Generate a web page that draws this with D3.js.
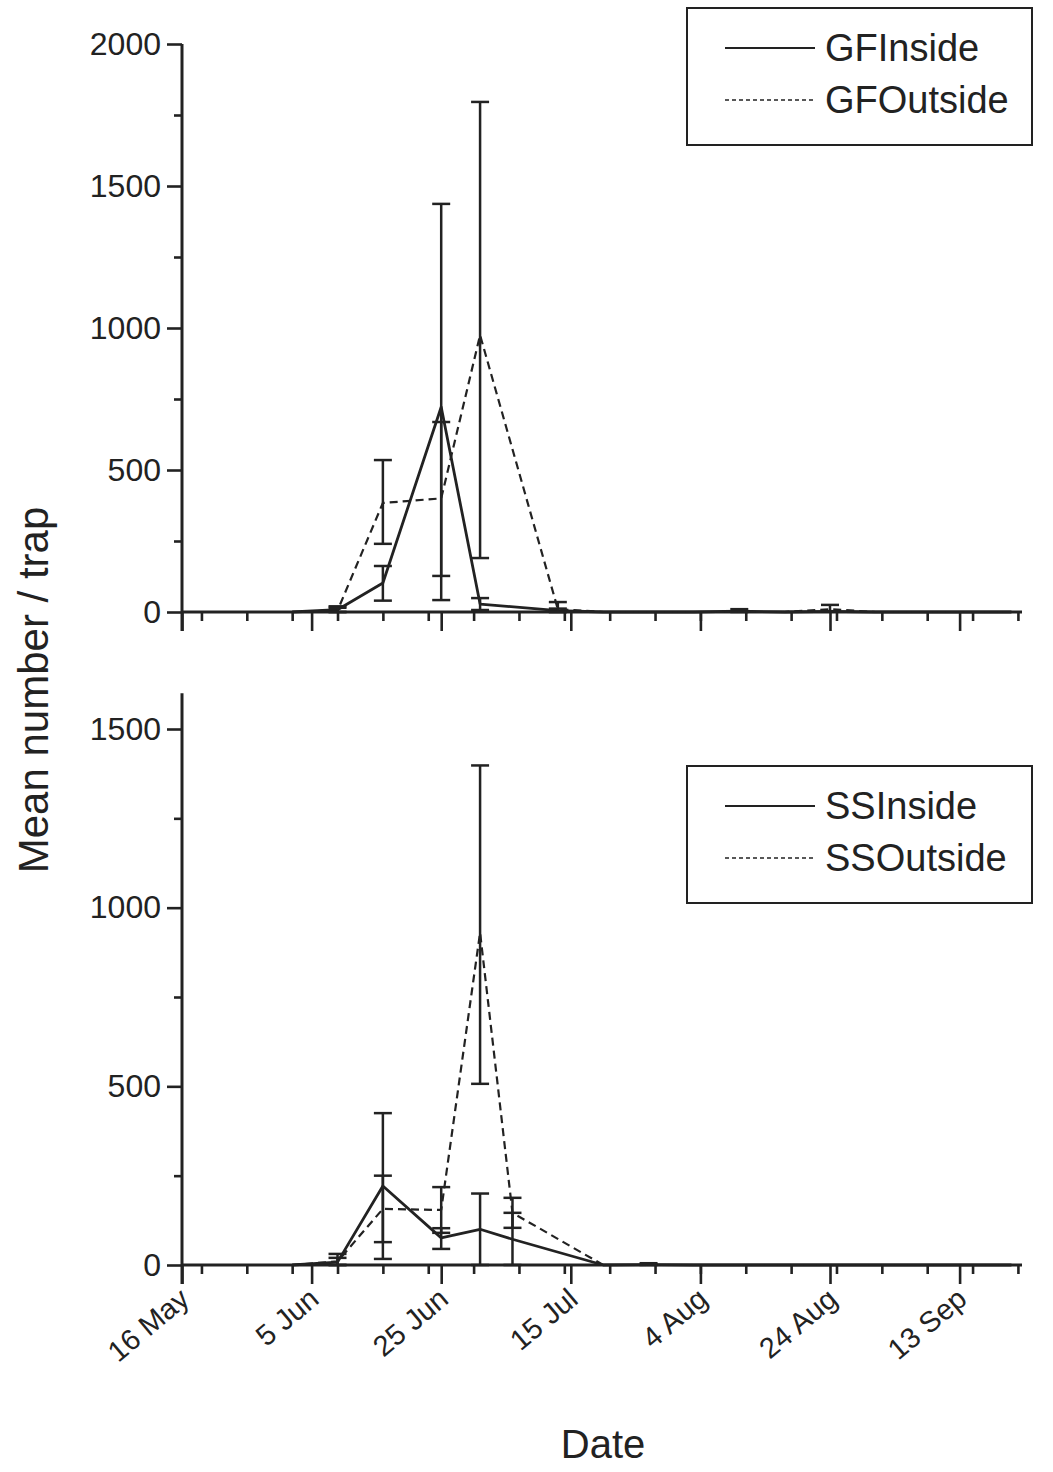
<!DOCTYPE html>
<html><head><meta charset="utf-8">
<script src="https://cdn.jsdelivr.net/npm/d3@7"></script>
<style>body{margin:0;background:#fff}</style>
</head><body>
<script>
// ---------- data ----------
const YEAR = 2002;
const majorTickDates  = ["05-16","06-05","06-25","07-15","08-04","08-24","09-13"];
const majorTickLabels = ["16 May","5 Jun","25 Jun","15 Jul","4 Aug","24 Aug","13 Sep"];

const gfDates = ["06-02","06-09","06-16","06-25","07-01","07-13","07-20","07-27","08-03","08-10","08-17","08-24","08-31","09-07","09-14","09-21"];
const gfInsideMean  = [0, 8, 102, 722, 28, 5, 0, 0, 0, 3, 0, 2, 0, 0, 0, 0];
const gfInsideLow   = [null, 0, 40, 42, 7, 0, null, null, null, 0, null, null, null, null, null, null];
const gfInsideHigh  = [null, 20, 162, 1437, 49, 12, null, null, null, 10, null, null, null, null, null, null];
const gfOutsideMean = [0, 5, 384, 400, 975, 10, 0, 0, 0, 0, 0, 10, 0, 0, 0, 0];
const gfOutsideLow  = [null, 0, 240, 127, 190, 0, null, null, null, null, null, 3, null, null, null, null];
const gfOutsideHigh = [null, 15, 535, 669, 1796, 35, null, null, null, null, null, 25, null, null, null, null];

const ssDates = ["06-02","06-09","06-16","06-25","07-01","07-06","07-20","07-27","08-03","08-10","08-17","08-24","08-31","09-07","09-14","09-21"];
const ssInsideMean  = [0, 8, 221, 76, 100, 72, 0, 1, 0, 0, 0, 0, 0, 0, 0, 0];
const ssInsideLow   = [null, 0, 17, 45, 0, 0, null, 0, null, null, null, null, null, null, null, null];
const ssInsideHigh  = [null, 20, 425, 103, 200, 146, null, 5, null, null, null, null, null, null, null, null];
const ssOutsideMean = [0, 10, 157, 154, 930, 146, 0, 0, 0, 0, 0, 0, 0, 0, 0, 0];
const ssOutsideLow  = [null, 0, 64, 90, 507, 104, null, null, null, null, null, null, null, null, null, null];
const ssOutsideHigh = [null, 31, 250, 218, 1398, 188, null, null, null, null, null, null, null, null, null, null];

const topYTicks = [0, 500, 1000, 1500, 2000];
const topYMinor = [250, 750, 1250, 1750];
const botYTicks = [0, 500, 1000, 1500];
const botYMinor = [250, 750, 1250];

// ---------- setup ----------
const W = 1053, H = 1472;
const FONT = "'Liberation Sans', Arial, Helvetica, sans-serif";
const d = s => new Date(Date.UTC(YEAR, +s.slice(0,2)-1, +s.slice(3,5)));
const svg = d3.select("body").append("svg").attr("width", W).attr("height", H)
  .style("font-family", FONT);

const x = d3.scaleUtc().domain([d("05-16"), d("09-22")]).range([182, 182 + 129*6.48]);
const weekly = d3.utcSunday.range(d("05-17"), d("09-23"));

function panel(cfg) {
  const y = d3.scaleLinear().domain([0, cfg.ymax]).range([cfg.y0, cfg.y0 - cfg.ymax*cfg.ppu]);
  const g = svg.append("g");
  const ax1 = g.append("g").attr("transform", `translate(0,${cfg.y0})`)
    .call(d3.axisBottom(x).tickValues(weekly).tickSize(9).tickSizeOuter(0).tickFormat(""));
  const ax2 = g.append("g").attr("transform", `translate(0,${cfg.y0})`)
    .call(d3.axisBottom(x).tickValues(majorTickDates.map(d)).tickSize(19).tickSizeOuter(0).tickFormat(""));
  [ax1, ax2].forEach(a => { a.select(".domain").remove(); a.selectAll("line").attr("stroke","#222").attr("stroke-width",2.6); });
  const ay1 = g.append("g").attr("transform", `translate(182,0)`)
    .call(d3.axisLeft(y).tickValues(cfg.yMinor).tickSize(8).tickSizeOuter(0).tickFormat(""));
  const ay2 = g.append("g").attr("transform", `translate(182,0)`)
    .call(d3.axisLeft(y).tickValues(cfg.yTicks).tickSize(15).tickSizeOuter(0).tickPadding(6).tickFormat(d3.format("d")));
  [ay1, ay2].forEach(a => { a.select(".domain").remove(); a.selectAll("line").attr("stroke","#222").attr("stroke-width",2.6); });
  ay2.selectAll("text").attr("font-size", 32).attr("font-family", FONT).attr("fill", "#222");
  g.append("line").attr("x1", 182).attr("x2", 1022).attr("y1", cfg.y0).attr("y2", cfg.y0)
    .attr("stroke", "#222").attr("stroke-width", 3.2);
  g.append("line").attr("x1", 182).attr("x2", 182).attr("y1", cfg.y0 + 19).attr("y2", y(cfg.ymax))
    .attr("stroke", "#222").attr("stroke-width", 3);

  cfg.series.forEach(s => {
    const pts = cfg.dates.map((t, i) => ({t: d(t), m: s.mean[i], lo: s.low[i], hi: s.high[i]}));
    const line = d3.line().x(p => x(p.t)).y(p => y(p.m));
    g.append("path").datum(pts).attr("d", line).attr("fill", "none")
      .attr("stroke", "#222").attr("stroke-width", s.dash ? 2.2 : 2.8)
      .attr("stroke-dasharray", s.dash ? "8,5" : null).attr("stroke-linejoin", "round");
    const eb = pts.filter(p => p.hi != null);
    const gg = g.append("g").attr("stroke", "#222").attr("stroke-width", 2.5);
    gg.selectAll(".v").data(eb).join("line")
      .attr("x1", p => x(p.t)).attr("x2", p => x(p.t)).attr("y1", p => y(p.lo)).attr("y2", p => y(p.hi));
    gg.selectAll(".c1").data(eb).join("line")
      .attr("x1", p => x(p.t)-9).attr("x2", p => x(p.t)+9).attr("y1", p => y(p.hi)).attr("y2", p => y(p.hi));
    gg.selectAll(".c2").data(eb).join("line")
      .attr("x1", p => x(p.t)-9).attr("x2", p => x(p.t)+9).attr("y1", p => y(p.lo)).attr("y2", p => y(p.lo));
  });

  const L = cfg.legend;
  g.append("rect").attr("x", 687).attr("y", L.y).attr("width", 345).attr("height", 137)
    .attr("fill", "#fff").attr("stroke", "#222").attr("stroke-width", 2);
  cfg.series.forEach((s, i) => {
    const ly = L.y + 40 + i*52;
    g.append("line").attr("x1", 725).attr("x2", 815).attr("y1", ly).attr("y2", ly)
      .attr("stroke", "#222").attr("stroke-width", s.dash ? 1.6 : 2.2)
      .attr("stroke-dasharray", s.dash ? "4,3" : null);
    g.append("text").attr("x", 825).attr("y", ly + 13).attr("font-size", 38)
      .attr("fill", "#222").text(s.name);
  });
  return y;
}

panel({
  y0: 612, ymax: 2000, ppu: 568/2000, yTicks: topYTicks, yMinor: topYMinor,
  dates: gfDates, legend: {y: 8},
  series: [
    {name: "GFInside", mean: gfInsideMean, low: gfInsideLow, high: gfInsideHigh, dash: false},
    {name: "GFOutside", mean: gfOutsideMean, low: gfOutsideLow, high: gfOutsideHigh, dash: true}
  ]
});
panel({
  y0: 1265, ymax: 1600, ppu: 536/1500, yTicks: botYTicks, yMinor: botYMinor,
  dates: ssDates, legend: {y: 766},
  series: [
    {name: "SSInside", mean: ssInsideMean, low: ssInsideLow, high: ssInsideHigh, dash: false},
    {name: "SSOutside", mean: ssOutsideMean, low: ssOutsideLow, high: ssOutsideHigh, dash: true}
  ]
});

svg.append("g").selectAll("text").data(majorTickDates).join("text")
  .attr("transform", (t) => `translate(${x(d(t)) + 9},${1302}) rotate(-40)`)
  .attr("text-anchor", "end").attr("font-size", 29).attr("fill", "#222")
  .text((t, i) => majorTickLabels[i]);

svg.append("text").attr("transform", "translate(48,690) rotate(-90)")
  .attr("text-anchor", "middle").attr("font-size", 42).attr("fill", "#222").text("Mean number / trap");
svg.append("text").attr("x", 603).attr("y", 1458).attr("text-anchor", "middle")
  .attr("font-size", 40).attr("fill", "#222").text("Date");
</script>
</body></html>
